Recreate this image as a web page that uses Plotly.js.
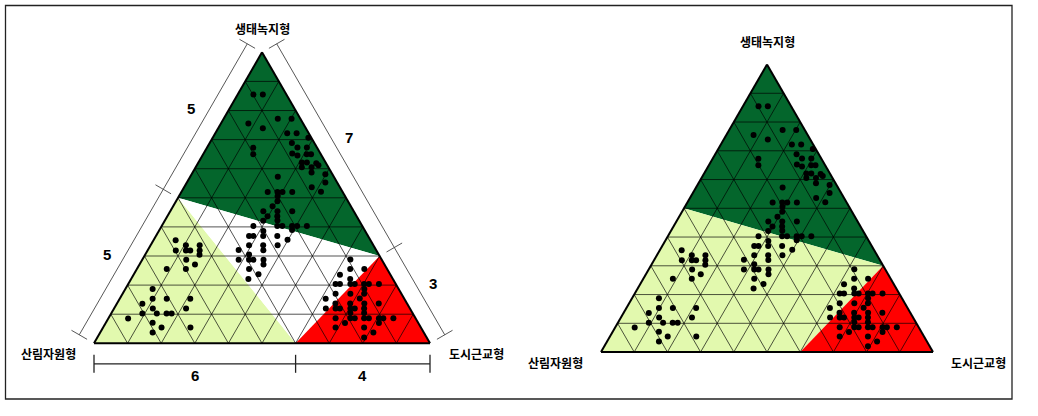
<!DOCTYPE html>
<html><head><meta charset="utf-8">
<script src="https://cdn.plot.ly/plotly-3.0.1.min.js"></script>
<style>html,body{margin:0;padding:0;background:#fff;}#chart{width:1038px;height:416px;}</style>
</head><body><div id="chart"></div>
<script>
// ---------- data ----------
const axisNames = ['생태녹지형', '산림자원형', '도시근교형']; // a (top), b (left), c (right)

// sample points (a = 생태녹지형, b = 산림자원형, c = 도시근교형)
const ptA = [
 .855,.855,.755,.739,.772,.772,.722,.722,.706,.672,.650,.688,.673,.652,.645,.673,.650,.650,.621,.621,
 .619,.612,.605,.605,.587,.581,.572,.553,.536,.521,.520,.520,.520,.520,.505,.488,.471,.454,.454,.454,
 .437,.437,.422,.421,.403,.403,.403,.403,.403,.403,.389,.386,.369,.369,.369,.369,.356,.337,.337,.337,
 .321,.320,.305,.287,.287,.287,.287,.271,.255,.237,.221,
 .354,.337,.337,.319,.319,.319,.319,.304,.287,.271,.255,.255,.187,.136,.153,.153,.153,.120,.120,.102,
 .102,.102,.102,.085,.071,.054,.054,.037,
 .288,.255,.236,.255,.221,.204,.204,.204,.204,.204,.204,.204,.187,.170,.170,.170,.154,.153,.137,.137,
 .137,.137,.120,.120,.120,.120,.120,.120,.104,.104,.086,.086,.086,.086,.086,.086,.086,.086,.070,.070,
 .054,.054,.037,.020
];
const ptB = [
 .098,.070,.163,.128,.067,.026,.064,.036,.009,.190,.201,.067,.058,.084,.072,.030,.042,.029,.071,.056,
 .029,.026,.079,.050,.059,.021,.167,.035,.084,.064,.150,.223,.194,.179,.201,.210,.233,.269,.227,.183,
 .265,.236,.243,.286,.324,.253,.238,.209,.194,.165,.216,.303,.354,.341,.312,.270,.246,.370,.328,.285,
 .409,.336,.386,.426,.395,.382,.352,.360,.411,.392,.430,
 .580,.558,.517,.597,.567,.554,.526,.534,.582,.564,.656,.599,.732,.788,.749,.707,.637,.765,.666,.805,
 .762,.733,.718,.856,.790,.772,.686,.807,
 .093,.110,.150,.068,.127,.179,.166,.135,.122,.094,.080,.050,.102,.111,.196,.152,.132,.234,.213,.169,
 .127,.084,.250,.221,.208,.177,.164,.136,.185,.144,.238,.194,.181,.153,.139,.109,.096,.066,.117,.218,
 .254,.169,.150,.186
];
const ptC = [
 .047,.075,.082,.133,.161,.202,.214,.242,.285,.138,.149,.245,.269,.264,.283,.297,.308,.321,.308,.323,
 .352,.362,.316,.345,.354,.398,.261,.412,.380,.415,.330,.257,.286,.301,.294,.302,.296,.277,.319,.363,
 .298,.327,.335,.293,.273,.344,.359,.388,.403,.432,.395,.311,.277,.290,.319,.361,.398,.293,.335,.378,
 .270,.344,.309,.287,.318,.331,.361,.369,.334,.371,.349,
 .066,.105,.146,.084,.114,.127,.155,.162,.131,.165,.089,.146,.081,.076,.098,.140,.210,.115,.214,.093,
 .136,.165,.180,.059,.139,.174,.260,.156,
 .619,.635,.614,.677,.652,.617,.630,.661,.674,.702,.716,.746,.711,.719,.634,.678,.714,.613,.650,.694,
 .736,.779,.630,.659,.672,.703,.716,.744,.711,.752,.676,.720,.733,.761,.775,.805,.818,.848,.813,.712,
 .692,.777,.813,.794
];

// classification zones (corner compositions)
const darkGreenA = [1, 0.5, 0.3],   darkGreenB = [0, 0.5, 0],   darkGreenC = [0, 0, 0.7];
const lightGreenA = [0.5, 0, 0],    lightGreenB = [0.5, 1, 0.4], lightGreenC = [0, 0, 0.6];
const whiteA = [0.5, 0.3, 0],       whiteB = [0.5, 0, 0.4],      whiteC = [0, 0.7, 0.6];
const redA = [0.3, 0, 0],           redB = [0, 0.4, 0],          redC = [0.7, 0.6, 1];
const lightGreen2A = [0.5, 0, 0, 0.3], lightGreen2B = [0.5, 1, 0.4, 0], lightGreen2C = [0, 0, 0.6, 0.7];

// dimension labels around the left diagram
const leftSegs = [5, 5];    // left side, top to bottom
const rightSegs = [7, 3];   // right side, top to bottom
const bottomSegs = [6, 4];  // bottom, left to right

// ---------- styling ----------
const W = 1038, H = 416;
const C_DARK = '#04662C', C_LIGHT = '#E2F9AE', C_RED = '#FF0000';
const dom1 = {x: [94 / W, 430 / W], y: [0.1245, 0.9245]};
const dom2 = {x: [601 / W, 933 / W], y: [0.0993, 0.8993]};

function gridLines() {
  const a = [], b = [], c = [];
  for (let k = 1; k < 10; k++) {
    const t = k / 10;
    a.push(t, t, null);       b.push(1 - t, 0, null);   c.push(0, 1 - t, null);
    a.push(1 - t, 0, null);   b.push(t, t, null);       c.push(0, 1 - t, null);
    a.push(1 - t, 0, null);   b.push(0, 1 - t, null);   c.push(t, t, null);
  }
  return {a, b, c};
}
const G = gridLines();

function zone(sub, A, B, Cc, col) {
  return {type: 'scatterternary', subplot: sub, mode: 'lines', a: A, b: B, c: Cc,
    fill: 'toself', fillcolor: col, line: {width: 0, color: col}, hoverinfo: 'skip', showlegend: false};
}
function grid(sub) {
  return {type: 'scatterternary', subplot: sub, mode: 'lines', a: G.a, b: G.b, c: G.c,
    line: {width: 0.8, color: 'rgba(0,0,0,0.85)'}, hoverinfo: 'skip', showlegend: false, connectgaps: false};
}
function dots(sub) {
  return {type: 'scatterternary', subplot: sub, mode: 'markers', a: ptA, b: ptB, c: ptC,
    marker: {size: 6, color: '#000'}, showlegend: false, hoverinfo: 'skip'};
}

const traces = [
  zone('ternary', darkGreenA, darkGreenB, darkGreenC, C_DARK),
  zone('ternary', lightGreenA, lightGreenB, lightGreenC, C_LIGHT),
  zone('ternary', whiteA, whiteB, whiteC, '#FFFFFF'),
  zone('ternary', redA, redB, redC, C_RED),
  grid('ternary'), dots('ternary'),
  zone('ternary2', darkGreenA, darkGreenB, darkGreenC, C_DARK),
  zone('ternary2', lightGreen2A, lightGreen2B, lightGreen2C, C_LIGHT),
  zone('ternary2', redA, redB, redC, C_RED),
  grid('ternary2'), dots('ternary2')
];

function axisCfg() {
  return {min: 0, showgrid: false, showticklabels: false, ticks: '', linecolor: '#000',
    linewidth: 2, layer: 'above traces', title: {text: ''}};
}
function tern(dom) {
  return {domain: dom, sum: 1, bgcolor: '#fff', aaxis: axisCfg(), baxis: axisCfg(), caxis: axisCfg()};
}

// replicate Plotly's ternary geometry to place the outer annotations
function geom(dom) {
  const wmax = (dom.x[1] - dom.x[0]) * W, hmax = (dom.y[1] - dom.y[0]) * H;
  const r = Math.sqrt(4 / 3);
  let w, h;
  if (wmax > r * hmax) { h = hmax; w = h * r; } else { w = wmax; h = w / r; }
  const cx = W * (dom.x[0] + dom.x[1]) / 2, cy = H * (1 - (dom.y[0] + dom.y[1]) / 2);
  return {x0: cx - w / 2, y0: cy - h / 2, w, h};
}
function px(g, a, c) { return [g.x0 + g.w * (c + a / 2), g.y0 + g.h * (1 - a)]; }
const PX = x => x / W, PY = y => 1 - y / H;

const shapes = [], annotations = [];
const titleFont = {family: 'Noto Sans CJK KR', size: 12, color: '#000'};
function note(x, y, text, font) {
  annotations.push({xref: 'paper', yref: 'paper', x: PX(x), y: PY(y), xanchor: 'center', yanchor: 'middle',
    text, showarrow: false, font});
}
function titles(g) {
  const top = px(g, 1, 0), bl = px(g, 0, 0), br = px(g, 0, 1);
  note(top[0], top[1] - 23.5, '<b>' + axisNames[0] + '</b>', titleFont);
  note(bl[0] - 46, bl[1] + 10, '<b>' + axisNames[1] + '</b>', titleFont);
  note(br[0] + 46, br[1] + 10, '<b>' + axisNames[2] + '</b>', titleFont);
}
const g1 = geom(dom1), g2 = geom(dom2);
titles(g1); titles(g2);

function seg(p, q, col, wd) {
  shapes.push({type: 'line', xref: 'paper', yref: 'paper', x0: PX(p[0]), y0: PY(p[1]), x1: PX(q[0]), y1: PY(q[1]),
    line: {color: col, width: wd}});
}
const numFont = {family: 'Liberation Sans, Arial', size: 15, color: '#000'};
// side dimension: positions [a,c] along the side (start to end), outward normal n
function sideDim(g, posList, segs, n, d, half, labD, col, wd) {
  const P = posList.map(ac => px(g, ac[0], ac[1]));
  const off = (p, k) => [p[0] + n[0] * k, p[1] + n[1] * k];
  seg(off(P[0], d), off(P[P.length - 1], d), col, wd);
  P.forEach(p => seg(off(p, d - half), off(p, d + half), col, wd));
  for (let i = 0; i < segs.length; i++) {
    const m = [(P[i][0] + P[i + 1][0]) / 2, (P[i][1] + P[i + 1][1]) / 2];
    const l = off(m, labD);
    note(l[0], l[1], '<b>' + String(segs[i]) + '</b>', numFont);
  }
}
const s3 = Math.sqrt(3) / 2;
const lTot = leftSegs[0] + leftSegs[1], rTot = rightSegs[0] + rightSegs[1], bTot = bottomSegs[0] + bottomSegs[1];
sideDim(g1, [[1, 0], [leftSegs[1] / lTot, 0], [0, 0]], leftSegs, [-s3, -0.5], 17, 9, 33, '#444', 0.9);
sideDim(g1, [[1, 0], [rightSegs[1] / rTot, 1 - rightSegs[1] / rTot], [0, 1]], rightSegs, [s3, -0.5], 17, 9, 33, '#444', 0.9);
sideDim(g1, [[0, 0], [0, bottomSegs[0] / bTot], [0, 1]], bottomSegs, [0, 1], 20.5, 9, 32, '#222', 1.3);

// outer frame
shapes.push({type: 'rect', xref: 'paper', yref: 'paper', x0: PX(5.5), x1: PX(1012), y0: PY(399), y1: PY(5.5),
  line: {color: '#222', width: 1.3}});

const layout = {
  width: W, height: H, margin: {l: 0, r: 0, t: 0, b: 0},
  paper_bgcolor: '#fff', showlegend: false,
  ternary: tern(dom1), ternary2: tern(dom2),
  shapes, annotations
};
Plotly.newPlot('chart', traces, layout, {staticPlot: true, displayModeBar: false});
</script>
</body></html>
